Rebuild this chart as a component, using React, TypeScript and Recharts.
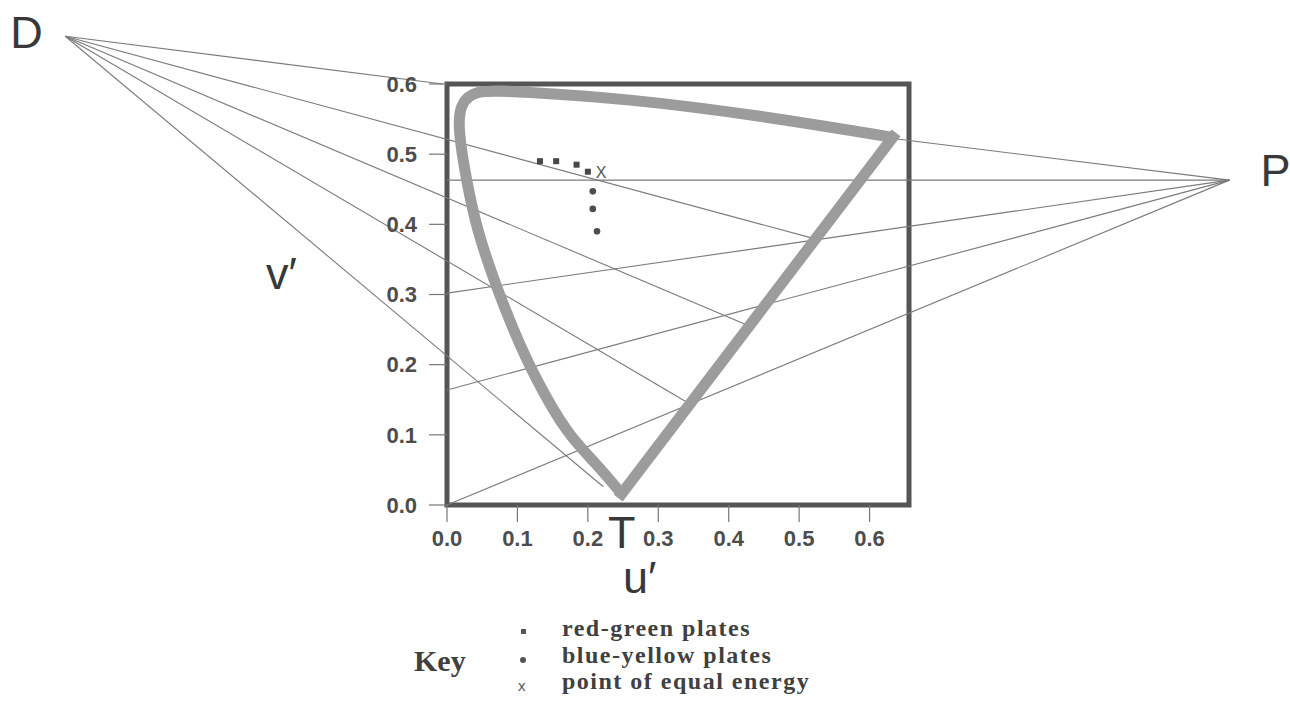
import {
  ComposedChart,
  XAxis,
  YAxis,
  Line,
  Scatter,
  ReferenceLine,
  ReferenceArea,
  ReferenceDot,
} from 'recharts';

const U_TICKS = [0, 0.1, 0.2, 0.3, 0.4, 0.5, 0.6];
const V_TICKS = [0, 0.1, 0.2, 0.3, 0.4, 0.5, 0.6];

// spectrum locus: violet end up the left curve and along the top to the red end
const curveU = [0.248, 0.21, 0.17, 0.128, 0.095, 0.067, 0.044, 0.028, 0.018, 0.021, 0.045, 0.118, 0.26, 0.444, 0.633];
const curveV = [0.016, 0.06, 0.107, 0.178, 0.249, 0.321, 0.392, 0.463, 0.53, 0.568, 0.588, 0.588, 0.577, 0.554, 0.524];
// purple line, red end back to violet end
const purpleU = [0.633, 0.248];
const purpleV = [0.524, 0.016];

// copunctal points
const deutan = { u: -0.542, v: 0.668 };
const protan = { u: 1.111, v: 0.463 };
const tritan = { u: 0.248, v: 0.0 };

// far ends of the confusion lines
const deutanEndU = [-0.006, 0.52, 0.425, 0.345, 0.222];
const deutanEndV = [0.6, 0.38, 0.257, 0.144, 0.026];
const protanEndU = [0.636, 0, 0, 0, 0];
const protanEndV = [0.522, 0.463, 0.302, 0.164, 0.0];

const redGreenU = [0.132, 0.155, 0.184, 0.2];
const redGreenV = [0.49, 0.49, 0.485, 0.475];
const blueYellowU = [0.207, 0.207, 0.213];
const blueYellowV = [0.447, 0.422, 0.39];
const equalEnergyU = [0.213];
const equalEnergyV = [0.475];

const zip = (us: number[], vs: number[]) => us.map((u, i) => ({ u, v: vs[i] }));
const curve = zip(curveU, curveV);
const purple = zip(purpleU, purpleV);
const redGreen = zip(redGreenU, redGreenV);
const blueYellow = zip(blueYellowU, blueYellowV);
const equalEnergy = zip(equalEnergyU, equalEnergyV);
const deutanEnds = zip(deutanEndU, deutanEndV);
const protanEnds = zip(protanEndU, protanEndV);

const SANS = '"Liberation Sans", Arial, sans-serif';
const SERIF = '"Liberation Serif", "Times New Roman", serif';
const LINE = '#7a7a7a';
const LOCUS = '#9c9c9c';
const tickStyle = { fontSize: 22, fontWeight: 700, fill: '#4d4d4d', fontFamily: SANS };

// big letters hung off a point or an axis box
// eslint-disable-next-line @typescript-eslint/no-explicit-any
const letter = (text: string, dx: number, dy: number, anchor = 'start') => (props: any) => {
  const vb = props.viewBox;
  return (
    <text x={vb.x + dx} y={vb.y + dy} textAnchor={anchor} fontSize={45} fontFamily={SANS} fill="#383838">
      {text}
    </text>
  );
};

// eslint-disable-next-line @typescript-eslint/no-explicit-any
const squareMark = (p: any) => <rect x={p.cx - 3} y={p.cy - 3} width={6} height={6} fill="#474747" />;
// eslint-disable-next-line @typescript-eslint/no-explicit-any
const dotMark = (p: any) => <circle cx={p.cx} cy={p.cy} r={3.3} fill="#4d4d4d" />;
// eslint-disable-next-line @typescript-eslint/no-explicit-any
const crossMark = (p: any) => (
  <text x={p.cx + 4} y={p.cy + 6} textAnchor="middle" fontSize={16} fontFamily={SANS} fill="#555">
    X
  </text>
);

const keyRows = [
  { mark: 'square', text: 'red-green plates' },
  { mark: 'dot', text: 'blue-yellow plates' },
  { mark: 'x', text: 'point of equal energy' },
];

function Key() {
  return (
    <div style={{ position: 'absolute', left: 0, top: 0, fontFamily: SERIF, fontWeight: 700, color: '#404040' }}>
      <span style={{ position: 'absolute', left: 414, top: 646, fontSize: 30, lineHeight: '30px', whiteSpace: 'nowrap' }}>Key</span>
      {keyRows.map((r, i) => {
        const top = 615 + i * 26.7;
        return (
          <div key={r.text}>
            {r.mark === 'square' && (
              <span style={{ position: 'absolute', left: 521, top: top + 14, width: 5, height: 5, background: '#555' }} />
            )}
            {r.mark === 'dot' && (
              <span style={{ position: 'absolute', left: 520, top: top + 15.3, width: 6, height: 6, borderRadius: 3, background: '#555' }} />
            )}
            {r.mark === 'x' && (
              <span style={{ position: 'absolute', left: 518, top: top + 9.6, fontFamily: SANS, fontWeight: 400, fontSize: 15, lineHeight: '15px', color: '#555' }}>x</span>
            )}
            <span style={{ position: 'absolute', left: 562, top, fontSize: 24, letterSpacing: 1.5, lineHeight: '26px', whiteSpace: 'nowrap' }}>
              {r.text}
            </span>
          </div>
        );
      })}
    </div>
  );
}

export default function App() {
  return (
    <div style={{ position: 'absolute', left: 0, top: 0, width: 1290, height: 710, background: '#fff' }}>
      <ComposedChart width={1290} height={710} margin={{ top: 84, right: 381, bottom: 165, left: 367 }}>
        <XAxis
          dataKey="u"
          type="number"
          domain={[0, 0.656]}
          allowDataOverflow
          ticks={U_TICKS}
          tickFormatter={(v: number) => v.toFixed(1)}
          axisLine={false}
          tickLine={{ stroke: '#777', strokeWidth: 1.2 }}
          tickSize={17}
          tickMargin={8}
          tick={tickStyle}
          height={40}
          label={letter('u\u2032', 176, 88)}
        />
        <YAxis
          dataKey="v"
          type="number"
          domain={[0, 0.6]}
          allowDataOverflow
          ticks={V_TICKS}
          tickFormatter={(v: number) => v.toFixed(1)}
          axisLine={false}
          tickLine={{ stroke: '#777', strokeWidth: 1.2 }}
          tickSize={18}
          tickMargin={12}
          tick={tickStyle}
          width={80}
          label={letter('v\u2032', -101, 205)}
        />

        {deutanEnds.map((e, i) => (
          <ReferenceLine
            key={`d${i}`}
            segment={[{ x: deutan.u, y: deutan.v }, { x: e.u, y: e.v }]}
            stroke={LINE}
            strokeWidth={1.1}
            ifOverflow="visible"
          />
        ))}
        {protanEnds.map((e, i) => (
          <ReferenceLine
            key={`p${i}`}
            segment={[{ x: protan.u, y: protan.v }, { x: e.u, y: e.v }]}
            stroke={LINE}
            strokeWidth={1.1}
            ifOverflow="visible"
          />
        ))}

        <Line
          data={curve}
          dataKey="v"
          type="natural"
          stroke={LOCUS}
          strokeWidth={11}
          dot={false}
          activeDot={false}
          isAnimationActive={false}
        />
        <Line
          data={purple}
          dataKey="v"
          type="linear"
          stroke={LOCUS}
          strokeWidth={11}
          strokeLinecap="square"
          dot={false}
          activeDot={false}
          isAnimationActive={false}
        />

        <ReferenceArea x1={0} x2={0.656} y1={0} y2={0.6} fill="none" stroke="#555" strokeWidth={5} ifOverflow="visible" />

        <Scatter data={redGreen} dataKey="v" shape={squareMark} isAnimationActive={false} />
        <Scatter data={blueYellow} dataKey="v" shape={dotMark} isAnimationActive={false} />
        <Scatter data={equalEnergy} dataKey="v" shape={crossMark} isAnimationActive={false} />

        <ReferenceDot x={deutan.u} y={deutan.v} r={0} ifOverflow="visible" label={letter('D', -55, 12)} />
        <ReferenceDot x={protan.u} y={protan.v} r={0} ifOverflow="visible" label={letter('P', 31, 6)} />
        <ReferenceDot x={tritan.u} y={tritan.v} r={0} ifOverflow="visible" label={letter('T', 0, 43, 'middle')} />
      </ComposedChart>
      <Key />
    </div>
  );
}
